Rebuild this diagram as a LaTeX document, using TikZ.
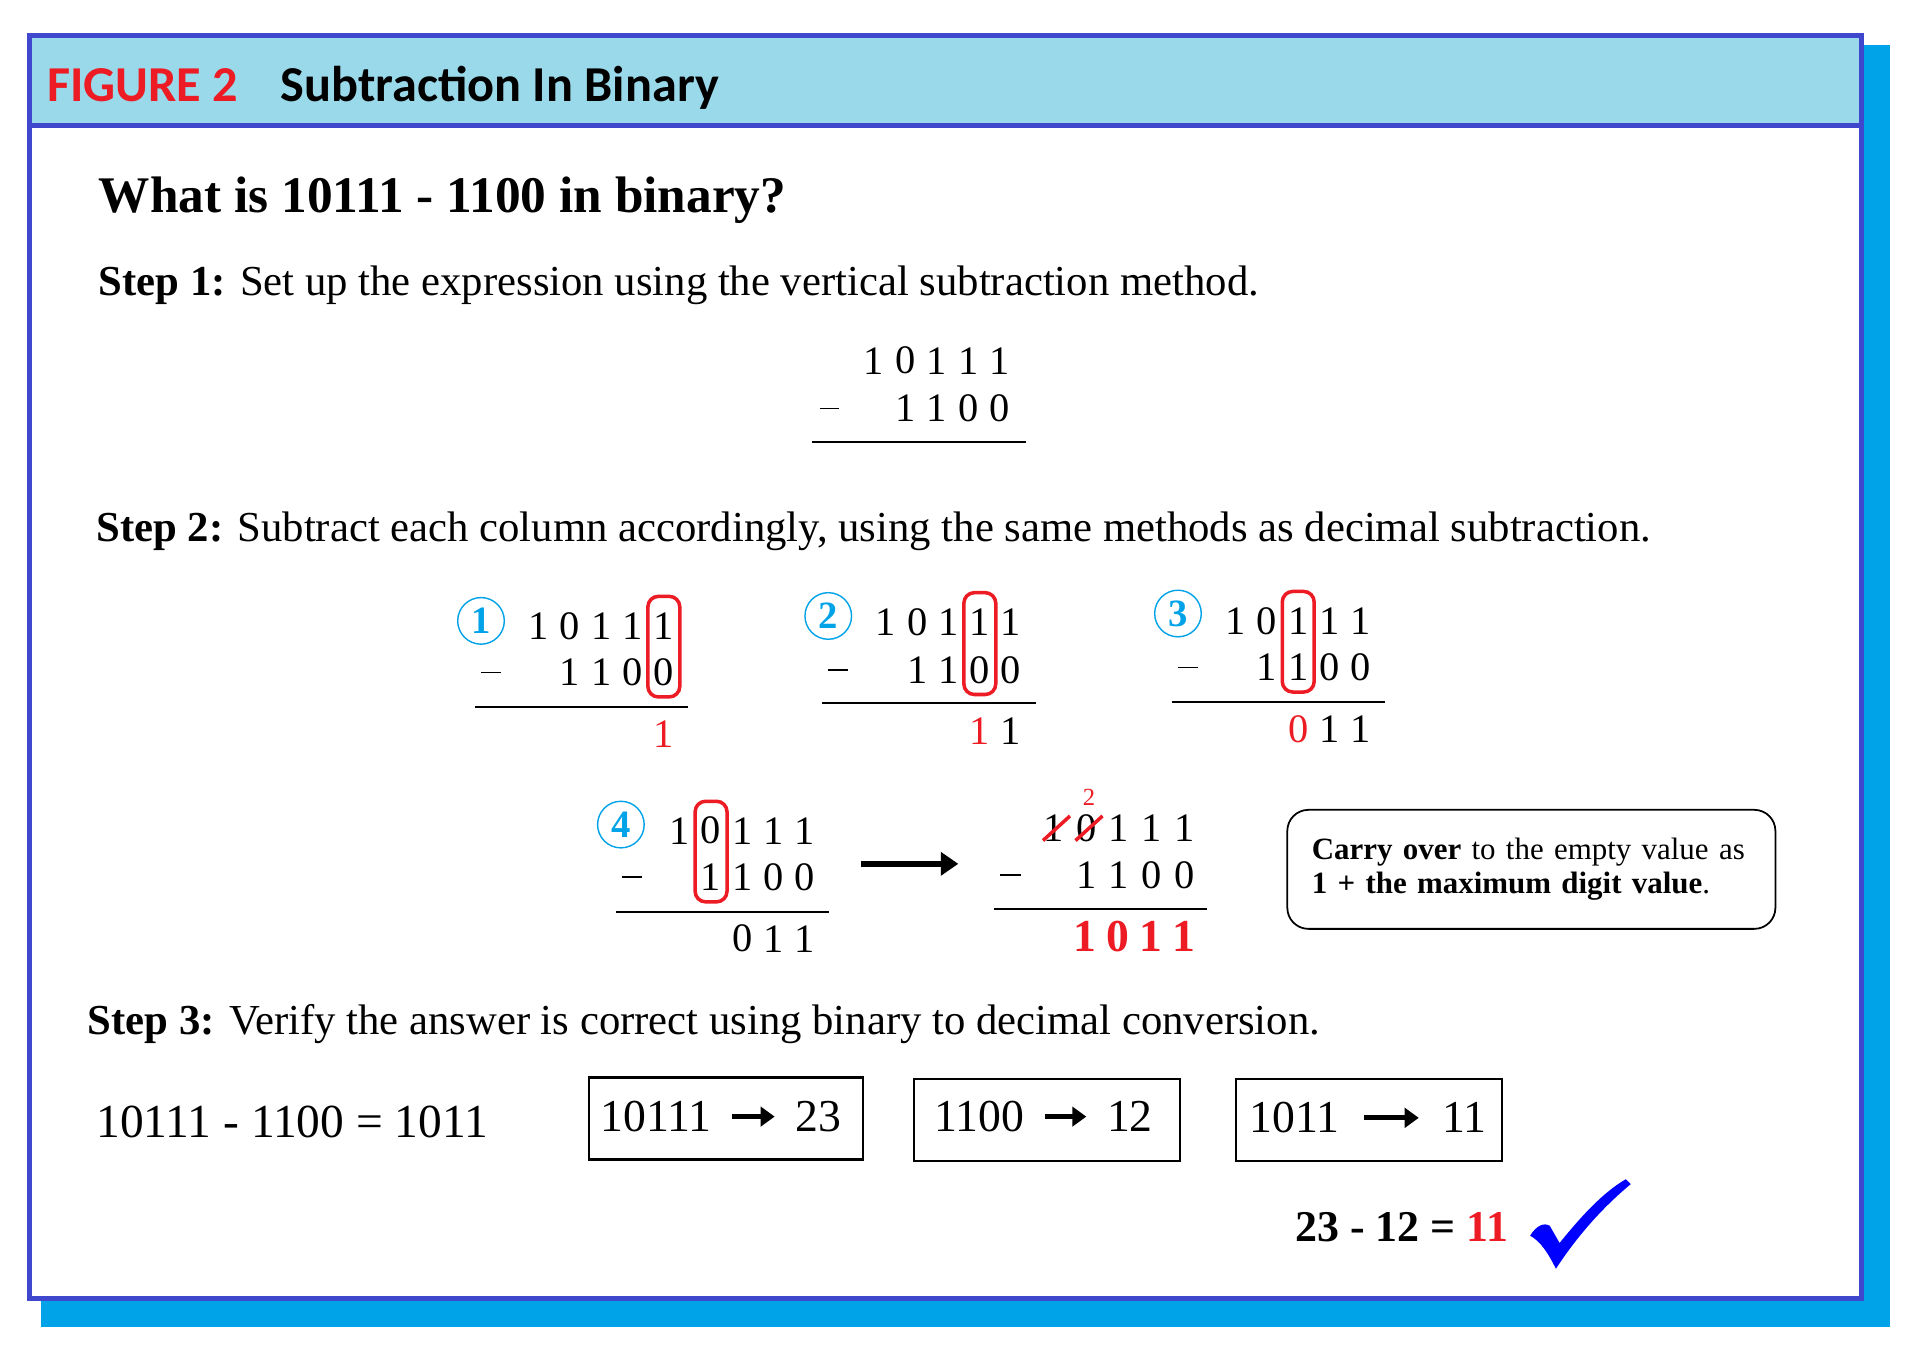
\documentclass[tikz,border=0pt]{standalone}
\usepackage{fontspec}
\setmainfont{Liberation Serif}
\newfontfamily\headfont{Carlito}
\usetikzlibrary{arrows.meta,positioning,calc}
\definecolor{frameblue}{HTML}{3F48CC}
\definecolor{shadowblue}{HTML}{00A2E8}
\definecolor{headfill}{HTML}{99D9EA}
\definecolor{figred}{HTML}{ED1C24}
\definecolor{tickblue}{HTML}{0000FF}

\begin{document}
\begin{tikzpicture}[
    x=0.01227cm, y=-0.01227cm,
    dig/.style={font=\fontsize{11.5}{13}\selectfont, inner sep=0pt},
    bolddig/.style={font=\fontsize{13}{15}\selectfont\bfseries, inner sep=0pt, text=figred},
    txt/.style={anchor=base west, inner sep=0pt, font=\fontsize{12.15}{14}\selectfont},
    stepnum/.style={circle, draw=shadowblue, line width=0.4pt, minimum size=4.66mm,
                    inner sep=0pt, text=shadowblue, font=\fontsize{11}{13}\selectfont\bfseries},
    colbox/.style={draw=figred, line width=1pt, rounded corners=3pt},
    rule/.style={line width=0.5pt},
    minus/.style={line width=0.5pt},
    numbox/.style={draw, line width=0.6pt, minimum height=8.2mm},
    bignum/.style={font=\fontsize{13}{15}\selectfont, inner sep=0pt},
    fatarrow/.style={-{Triangle[length=4pt,width=5.5pt]}, line width=1.4pt},
    note/.style={draw, rounded corners=6pt, line width=0.5pt, text width=43.9mm,
                 inner xsep=2.45mm, minimum height=11.9mm, align=left,
                 font=\fontsize{8.8}{9.8}\selectfont},
    strike/.style={draw=figred, line width=1pt}
  ]
  \useasboundingbox (0,0) rectangle (1568,1117);

  % frame with shadow and header band
  \fill[shadowblue] (33.4,36.7) rectangle (1540.3,1081.5);
  \fill[white] (24,28.9) rectangle (1517.1,1058.3);
  \fill[headfill] (24,28.9) rectangle (1517.1,102.3);
  \draw[frameblue, line width=1.42pt] (24,28.9) rectangle (1517.1,1058.3);
  \draw[frameblue, line width=1.42pt] (24,102.3) -- (1517.1,102.3);

  \node[anchor=base west, inner sep=0pt, text=figred, font=\headfont\fontsize{14.3}{17}\selectfont\bfseries]
      (figno) at (38,83) {FIGURE 2};
  \node[anchor=base west, inner sep=0pt, font=\headfont\fontsize{14.3}{17}\selectfont\bfseries]
      (figtitle) at (228,83) {Subtraction In Binary};

  % question and step 1
  \node[txt, font=\fontsize{14.6}{16}\selectfont\bfseries] (question) at (80,173) {What is 10111 - 1100 in binary?};
  \node[txt] (step1) at (80,241) {\textbf{Step 1:} Set up the expression using the vertical subtraction method.};

  \foreach \d [count=\i from 0] in {1,0,1,1,1}
    \node[dig] (s-t\i) at ({712+25.75*\i},294) {\d};
  \foreach \d [count=\i from 1] in {1,1,0,0}
    \node[dig] (s-b\i) at ({712+25.75*\i},333) {\d};
  \draw[minus] (668,333) -- (684,333);
  \draw[rule] (662,360) -- (836,360);

  % step 2
  \node[txt] (step2) at (78,441) {\textbf{Step 2:} Subtract each column accordingly, using the same methods as decimal subtraction.};

  % column 1
  \node[stepnum] (n1) at (392,506) {1};
  \foreach \d [count=\i from 0] in {1,0,1,1,1}
    \node[dig] (pa-t\i) at ({439+25.5*\i},510) {\d};
  \foreach \d [count=\i from 1] in {1,1,0,0}
    \node[dig] (pa-b\i) at ({439+25.5*\i},548) {\d};
  \draw[minus] (392,548) -- (408,548);
  \draw[rule] (387,576) -- (561,576);
  \node[dig, text=figred] (pa-r4) at ({439+25.5*4},598) {1};
  \draw[colbox] ($(pa-t4)+(-13,-24)$) rectangle ($(pa-b4)+(13,20)$);

  % column 2
  \node[stepnum] (n2) at (675,502) {2};
  \foreach \d [count=\i from 0] in {1,0,1,1,1}
    \node[dig] (pb-t\i) at ({722+25.5*\i},507) {\d};
  \foreach \d [count=\i from 1] in {1,1,0,0}
    \node[dig] (pb-b\i) at ({722+25.5*\i},546) {\d};
  \draw[minus] (675,546) -- (691,546);
  \draw[rule] (670,573) -- (844,573);
  \node[dig, text=figred] (pb-r3) at ({722+25.5*3},596) {1};
  \node[dig] (pb-r4) at ({722+25.5*4},596) {1};
  \draw[colbox] ($(pb-t3)+(-13,-24)$) rectangle ($(pb-b3)+(13,20)$);

  % column 3
  \node[stepnum] (n3) at (960,500) {3};
  \foreach \d [count=\i from 0] in {1,0,1,1,1}
    \node[dig] (pc-t\i) at ({1007+25.5*\i},506) {\d};
  \foreach \d [count=\i from 1] in {1,1,0,0}
    \node[dig] (pc-b\i) at ({1007+25.5*\i},544) {\d};
  \draw[minus] (960,544) -- (976,544);
  \draw[rule] (955,572) -- (1129,572);
  \node[dig, text=figred] (pc-r2) at ({1007+25.5*2},594) {0};
  \node[dig] (pc-r3) at ({1007+25.5*3},594) {1};
  \node[dig] (pc-r4) at ({1007+25.5*4},594) {1};
  \draw[colbox] ($(pc-t2)+(-13,-24)$) rectangle ($(pc-b2)+(13,20)$);

  % column 4
  \node[stepnum] (n4) at (506,672) {4};
  \foreach \d [count=\i from 0] in {1,0,1,1,1}
    \node[dig] (pd-t\i) at ({554+25.5*\i},677) {\d};
  \foreach \d [count=\i from 1] in {1,1,0,0}
    \node[dig] (pd-b\i) at ({554+25.5*\i},715) {\d};
  \draw[minus] (507,715) -- (523,715);
  \draw[rule] (502,743) -- (676,743);
  \foreach \d [count=\i from 2] in {0,1,1}
    \node[dig] (pd-r\i) at ({554+25.5*\i},765) {\d};
  \draw[colbox] ($(pd-t1)+(-13,-24)$) rectangle ($(pd-b1)+(13,20)$);

  \coordinate (carryS) at (702,704);
  \coordinate (carryE) at (781,704);
  \draw[-{Triangle[length=5pt,width=6.5pt]}, line width=1.8pt] (carryS) -- (carryE);

  % result after carrying
  \foreach \d [count=\i from 0] in {1,0,1,1,1}
    \node[dig] (pe-t\i) at ({859+26.5*\i},675) {\d};
  \foreach \d [count=\i from 1] in {1,1,0,0}
    \node[dig] (pe-b\i) at ({859+26.5*\i},713) {\d};
  \draw[minus] (815,713) -- (832,713);
  \draw[rule] (810,741) -- (984,741);
  \draw[strike] ($(pe-t0)+(-9,10)$) -- ($(pe-t0)+(13,-10)$);
  \draw[strike] ($(pe-t1)+(-9,10)$) -- ($(pe-t1)+(13,-10)$);
  \node[inner sep=0pt, text=figred, font=\fontsize{7}{8}\selectfont] (carry) at ($(pe-t1)+(2,-25)$) {2};
  \foreach \d [count=\i from 1] in {1,0,1,1}
    \node[bolddig] (pe-r\i) at ({857+27*\i},763) {\d};

  \node[note] (hint) at (1248,708.5)
      {\textbf{Carry over} to the empty value as\\ \textbf{1 + the maximum digit value}.};

  % step 3
  \node[txt] (step3) at (71,843) {\textbf{Step 3:} Verify the answer is correct using binary to decimal conversion.};
  \node[txt, font=\fontsize{13.5}{15}\selectfont] (eqn) at (78,927) {10111 - 1100 = 1011};

  \node[numbox, minimum width=27.4mm] (box1) at (591.5,911.5) {};
  \node[bignum, anchor=west] (bin1) at (489,910) {10111};
  \node[bignum, anchor=east] (dec1) at (686,910) {23};
  \draw[fatarrow, shorten <=2mm, shorten >=2mm] (bin1) -- (dec1);

  \node[numbox, minimum width=26.6mm] (box2) at (853.5,912.5) {};
  \node[bignum, anchor=west] (bin2) at (761,910) {1100};
  \node[bignum, anchor=east] (dec2) at (940,910) {12};
  \draw[fatarrow, shorten <=2mm, shorten >=2mm] (bin2) -- (dec2);

  \node[numbox, minimum width=26.6mm] (box3) at (1115.5,912.5) {};
  \node[bignum, anchor=west] (bin3) at (1018,911) {1011};
  \node[bignum, anchor=east] (dec3) at (1212,911) {11};
  \draw[fatarrow, shorten <=2.4mm, shorten >=2.3mm] (bin3) -- (dec3);

  \node[txt, font=\fontsize{12.5}{14}\selectfont\bfseries] (check) at (1055,1012)
      {23 - 12 = \textcolor{figred}{11}};

  % tick mark
  \fill[tickblue] (1247,1007) .. controls (1252,999) and (1258,996) .. (1263,999)
      -- (1271,1013) .. controls (1288,992) and (1306,972) .. (1325,961)
      -- (1329,965) .. controls (1305,985) and (1285,1008) .. (1268,1034)
      .. controls (1262,1022) and (1256,1012) .. (1247,1007) -- cycle;
\end{tikzpicture}
\end{document}
